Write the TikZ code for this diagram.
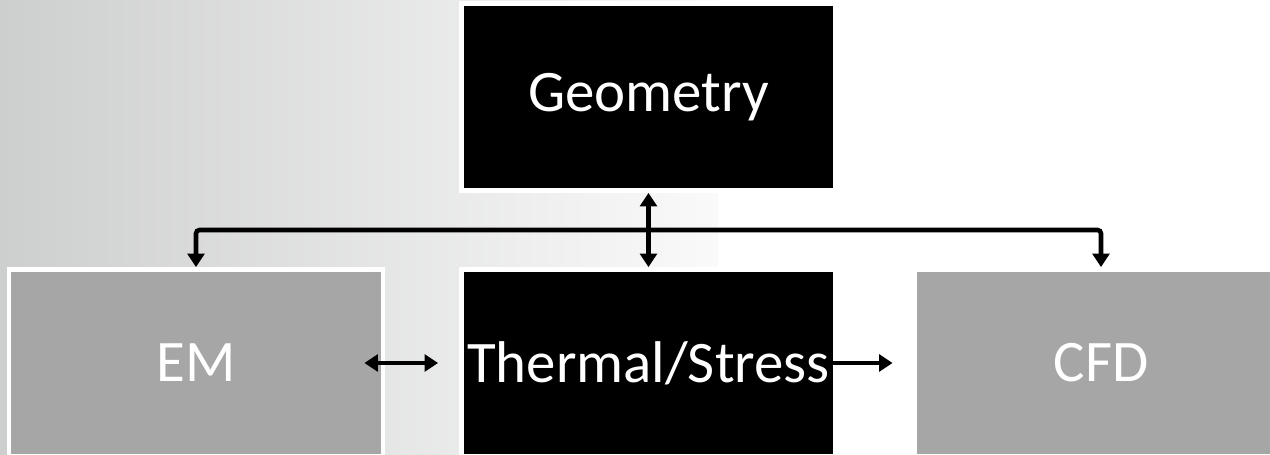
\documentclass[tikz,border=0pt]{standalone}
\usepackage{fontspec}
\setmainfont{Carlito}
\usetikzlibrary{arrows.meta, positioning, calc}
\definecolor{BoxGrey}{HTML}{A6A6A6}
\definecolor{BackGrey}{HTML}{CDCECE}

\begin{document}
\begin{tikzpicture}[x=0.02cm, y=-0.02cm,
  >={Triangle[width=9.5pt, length=7.6pt]},
  box/.style={draw=white, line width=2.8pt, minimum width=7.48cm,
    minimum height=3.74cm, inner sep=0pt, text=white,
    font=\fontsize{33.5}{40}\selectfont},
  link/.style={line width=2.6pt, rounded corners=2pt}]
  \useasboundingbox (0,0) rectangle (1270,455);
  \clip (0,0) rectangle (1270,455);
  % background
  \shade[left color=BackGrey, right color=black!2] (0,0) rectangle (718,455);

  \node[box, fill=black] (geo) at (648.5,97) {Geometry};
  \node[box, fill=BoxGrey] (em) at (196,363) {EM};
  \node[box, fill=black] (ts) at (648.5,363) {Thermal/Stress};
  \node[box, fill=BoxGrey] (cfd) at (1101,363) {CFD};

  \coordinate (bus) at ($(geo.south)!0.5!(ts.north)$);
  \draw[link, <->] (geo.south) -- (ts.north);
  \draw[link, ->] (bus) -| (em.north);
  \draw[link, ->] (bus) -| (cfd.north);
  \draw[link, <->] ([xshift=-0.42cm]em.east) -- ([xshift=-0.42cm]ts.west);
  \draw[link, ->] ([xshift=-0.1cm]ts.east) -- ([xshift=-0.38cm]cfd.west);
\end{tikzpicture}
\end{document}
